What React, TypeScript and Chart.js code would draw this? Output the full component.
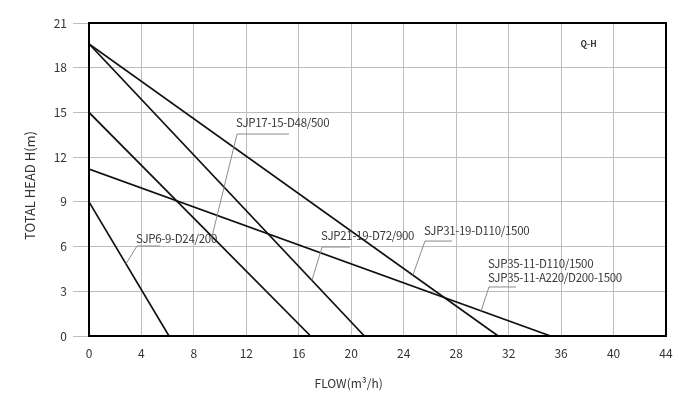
import React, { useEffect, useRef } from "react";
import { Chart, registerables } from "chart.js";

Chart.register(...registerables);

// ---- data ----
const flowTicks = [0, 4, 8, 12, 16, 20, 24, 28, 32, 36, 40, 44];
const headTicks = [0, 3, 6, 9, 12, 15, 18, 21];

const seriesNames = [
  "SJP6-9-D24/200",
  "SJP17-15-D48/500",
  "SJP21-19-D72/900",
  "SJP31-19-D110/1500",
  "SJP35-11-D110/1500",
];
// head at zero flow (m) and flow at zero head (m3/h)
const shutoffHead = [9, 15, 19.6, 19.6, 11.2];
const maxFlow = [6.1, 16.9, 21, 31.2, 35.2];

// label annotations (data coordinates)
const labelTexts = [
  ["SJP6-9-D24/200"],
  ["SJP17-15-D48/500"],
  ["SJP21-19-D72/900"],
  ["SJP31-19-D110/1500"],
  ["SJP35-11-D110/1500", "SJP35-11-A220/D200-1500"],
];
const labelSeries = [0, 1, 2, 3, 4];
const labelPointFlow = [2.82, 9.38, 17.0, 24.7, 29.9];
const labelLeftFlow = [3.66, 11.29, 17.77, 25.62, 30.5];
const labelUnderlineEndFlow = [5.41, 15.25, 19.9, 27.68, 32.56];
const labelUnderlineHead = [6.04, 13.55, 5.97, 6.37, 3.29];
const labelTextHead = [6.54, 14.29, 6.71, 7.06, 3.89];
const labelLineStepHead = 0.94;

const FONT = "'Noto Sans CJK SC', 'Noto Sans', sans-serif";

const annotationPlugin = {
  id: "pumpAnnotations",
  afterDatasetsDraw(chart: any) {
    const { ctx, chartArea } = chart;
    ctx.save();
    ctx.strokeStyle = "#000";
    ctx.lineWidth = 2;
    ctx.strokeRect(
      chartArea.left,
      chartArea.top,
      chartArea.right - chartArea.left,
      chartArea.bottom - chartArea.top
    );
    ctx.restore();
  },
  afterDraw(chart: any) {
    const { ctx, chartArea, scales } = chart;
    const xs = scales.x;
    const ys = scales.y;
    ctx.save();
    for (let i = 0; i < labelTexts.length; i++) {
      const s = labelSeries[i];
      const q = labelPointFlow[i];
      const hOnLine = shutoffHead[s] * (1 - q / maxFlow[s]);
      const px = xs.getPixelForValue(q);
      const py = ys.getPixelForValue(hOnLine);
      const lx = xs.getPixelForValue(labelLeftFlow[i]);
      const ux = xs.getPixelForValue(labelUnderlineEndFlow[i]);
      const uy = ys.getPixelForValue(labelUnderlineHead[i]);
      ctx.strokeStyle = "#8c8c8c";
      ctx.lineWidth = 1;
      ctx.beginPath();
      ctx.moveTo(px, py);
      ctx.lineTo(lx, uy);
      ctx.lineTo(ux, uy);
      ctx.stroke();
      ctx.fillStyle = "#3a3a3a";
      ctx.font = `11.5px ${FONT}`;
      (ctx as any).letterSpacing = "-0.3px";
      ctx.textAlign = "left";
      ctx.textBaseline = "middle";
      const lines = labelTexts[i];
      for (let k = 0; k < lines.length; k++) {
        const h = labelTextHead[i] + (lines.length - 1 - k) * labelLineStepHead;
        ctx.fillText(lines[k], lx - 1, ys.getPixelForValue(h));
      }
      (ctx as any).letterSpacing = "0px";
    }
    ctx.fillStyle = "#333";
    ctx.font = `bold 8.5px ${FONT}`;
    ctx.textAlign = "center";
    ctx.textBaseline = "middle";
    ctx.fillText("Q-H", xs.getPixelForValue(38.1), ys.getPixelForValue(19.6));
    ctx.fillStyle = "#333";
    ctx.font = `12px ${FONT}`;
    ctx.textAlign = "center";
    ctx.textBaseline = "middle";
    ctx.fillText("FLOW(m³/h)", xs.getPixelForValue(19.8), chartArea.bottom + 47);
    ctx.save();
    ctx.translate(30, (chartArea.top + chartArea.bottom) / 2 + 6);
    ctx.rotate(-Math.PI / 2);
    ctx.font = `13px ${FONT}`;
    ctx.fillText("TOTAL HEAD H(m)", 0, 0);
    ctx.restore();
    ctx.restore();
  },
};

export default function App() {
  const canvasRef = useRef<HTMLCanvasElement | null>(null);

  useEffect(() => {
    if (!canvasRef.current) return;
    const datasets = seriesNames.map((name, i) => ({
      label: name,
      data: [
        { x: 0, y: shutoffHead[i] },
        { x: maxFlow[i], y: 0 },
      ],
      showLine: true,
      borderColor: "#111",
      borderWidth: 1.7,
      pointRadius: 0,
      pointHoverRadius: 0,
      fill: false,
    }));
    const chart = new Chart(canvasRef.current, {
      type: "scatter",
      data: { datasets },
      options: {
        animation: false,
        responsive: false,
        maintainAspectRatio: false,
        layout: { padding: { left: 0, right: 34, top: 23, bottom: 0 } },
        plugins: {
          legend: { display: false },
          tooltip: { enabled: false },
          title: { display: false },
        },
        scales: {
          x: {
            type: "linear",
            min: 0,
            max: 44,
            afterBuildTicks: (s: any) => {
              s.ticks = flowTicks.map((v) => ({ value: v }));
            },
            afterFit: (s: any) => {
              s.height = 59;
            },
            grid: { color: "#bdbdbd", lineWidth: 1, drawTicks: false },
            border: { display: false },
            ticks: {
              color: "#333",
              padding: 10,
              maxRotation: 0,
              autoSkip: false,
              font: { family: FONT, size: 12 },
            },
          },
          y: {
            type: "linear",
            min: 0,
            max: 21,
            afterBuildTicks: (s: any) => {
              s.ticks = headTicks.map((v) => ({ value: v }));
            },
            afterFit: (s: any) => {
              s.width = 89;
            },
            grid: {
              color: "#bdbdbd",
              lineWidth: 1,
              drawTicks: true,
              tickLength: 16,
              tickColor: "#bdbdbd",
            },
            border: { display: false },
            ticks: {
              color: "#333",
              padding: 6,
              autoSkip: false,
              font: { family: FONT, size: 12 },
            },
          },
        },
      },
      plugins: [annotationPlugin],
    } as any);
    return () => chart.destroy();
  }, []);

  return (
    <div
      style={{
        position: "fixed",
        left: 0,
        top: 0,
        width: 700,
        height: 395,
        background: "#fff",
      }}
    >
      <canvas ref={canvasRef} width={700} height={395} />
    </div>
  );
}
